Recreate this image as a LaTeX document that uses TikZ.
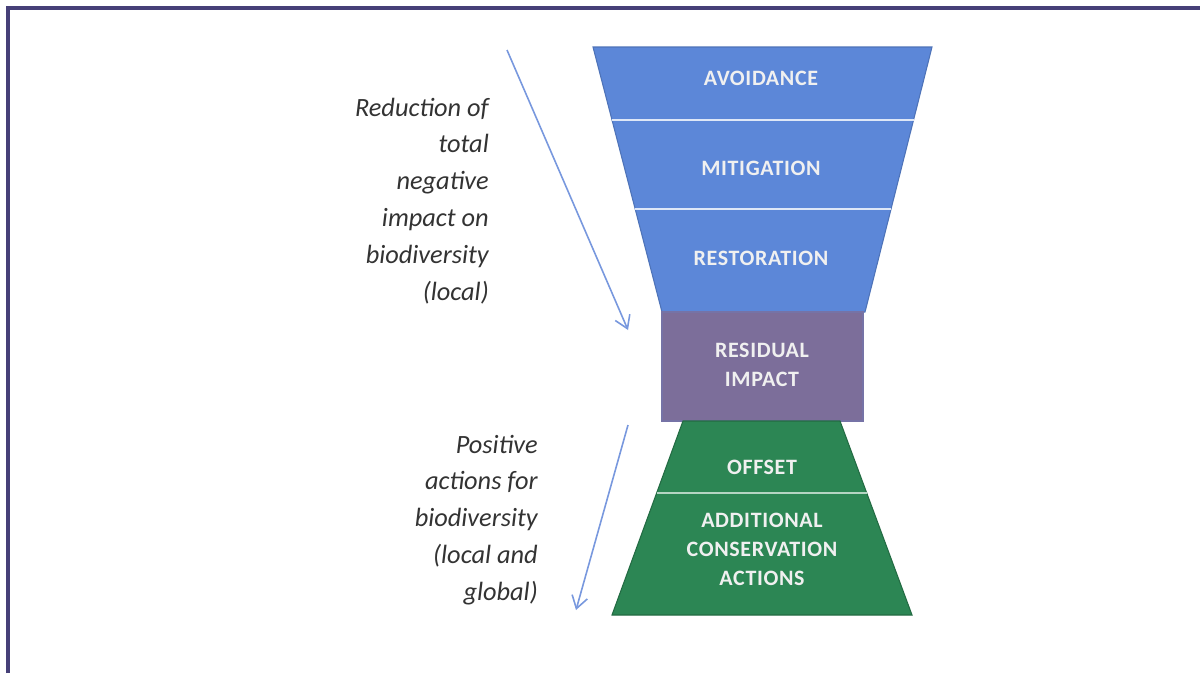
\documentclass[tikz,border=0pt]{standalone}
\usepackage{fontspec}
\setmainfont{Carlito}
\usetikzlibrary{calc,arrows.meta}
\definecolor{hierblue}{RGB}{92,135,216}
\definecolor{hierpurple}{RGB}{124,110,154}
\definecolor{hiergreen}{RGB}{44,134,84}
\definecolor{arrowblue}{RGB}{120,152,222}
\definecolor{framecol}{RGB}{70,64,120}
\tikzset{
	steplabel/.style={text=white!94!black,font=\bfseries\fontsize{12.5}{16.5}\selectfont\addfontfeature{LetterSpace=3},align=center},
	sidetext/.style={text=black!80,font=\itshape\fontsize{15}{21}\selectfont,align=right,anchor=east},
	sidearrow/.style={arrowblue,line width=0.9pt,-{Straight Barb[length=7pt,width=9pt]}}
}
\begin{document}
\begin{tikzpicture}[x=0.02cm,y=-0.02cm]
		\useasboundingbox (0,0) rectangle (1200,673);
		\fill[white] (0,0) rectangle (1200,673);
		\draw[framecol,line width=1.9pt] (8,673)--(8,8)--(1200,8);
		% upper part of the hierarchy
		\coordinate (btl) at (593,47);
		\coordinate (btr) at (932,47);
		\coordinate (bbr) at (865,312);
		\coordinate (bbl) at (662,312);
		\filldraw[fill=hierblue,draw=hierblue!85!black,line width=0.6pt] (btl)--(btr)--(bbr)--(bbl)--cycle;
		\draw[white!80!hierblue,line width=1.1pt] ($(btl)!0.275!(bbl)$)--($(btr)!0.275!(bbr)$);
		\draw[white!80!hierblue,line width=1.1pt] ($(btl)!0.611!(bbl)$)--($(btr)!0.611!(bbr)$);
		\filldraw[fill=hierpurple,draw=hierpurple!80!hierblue,line width=0.6pt] (662,312) rectangle (863,421);
		% lower part
		\coordinate (gtl) at (683,421);
		\coordinate (gtr) at (840,421);
		\coordinate (gbr) at (912,615);
		\coordinate (gbl) at (612,615);
		\filldraw[fill=hiergreen,draw=hiergreen!80!black,line width=0.6pt] (gtl)--(gtr)--(gbr)--(gbl)--cycle;
		\draw[white!65!hiergreen,line width=1.4pt] ($(gtl)!0.371!(gbl)$)--($(gtr)!0.371!(gbr)$);
		\node[steplabel] (avoid) at (761,78) {AVOIDANCE};
		\node[steplabel] (mitig) at (761,168) {MITIGATION};
		\node[steplabel] (restor) at (761,258) {RESTORATION};
		\node[steplabel] (resid) at (762,365) {RESIDUAL\\IMPACT};
		\node[steplabel] (offset) at (762,467) {OFFSET};
		\node[steplabel] (addcons) at (762,549) {ADDITIONAL\\CONSERVATION\\ACTIONS};
		% side texts and arrows
		\node[sidetext] (reduct) at (495,201) {Reduction of\\total\\negative\\impact on\\biodiversity\\(local)};
		\node[sidetext] (posit) at (544,520) {Positive\\actions for\\biodiversity\\(local and\\global)};
		\coordinate (r1) at (507,50);
		\coordinate (r2) at (628,330);
		\coordinate (p1) at (628,425);
		\coordinate (p2) at (576,610);
		\draw[sidearrow] (r1)--(r2);
		\draw[sidearrow] (p1)--(p2);
	\end{tikzpicture}
\end{document}
